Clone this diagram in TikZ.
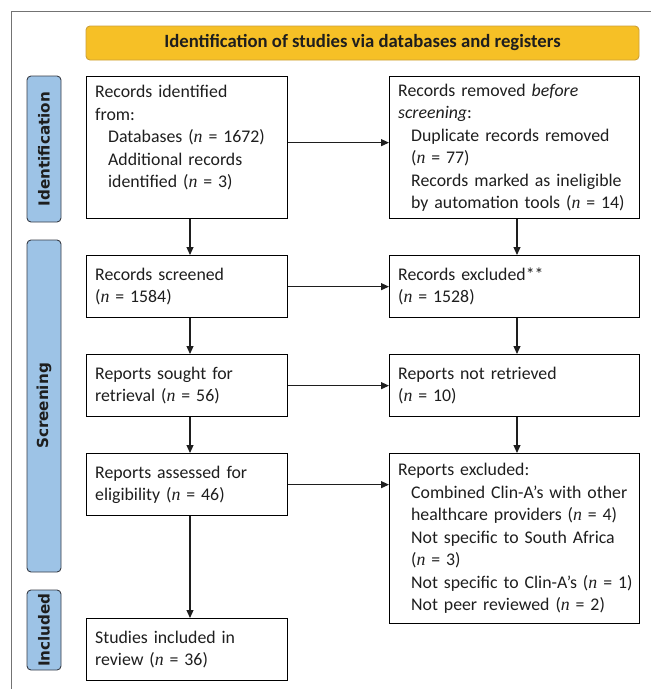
\documentclass[tikz,border=0pt]{standalone}
\usepackage{fontspec}
\setmainfont{Carlito}
\newfontfamily\sidefont{DejaVu Sans}
\newfontfamily\nfont{Liberation Serif}
\usetikzlibrary{arrows.meta}
\definecolor{bannerfill}{RGB}{246,192,38}
\definecolor{bannerline}{RGB}{205,160,55}
\definecolor{sidefill}{RGB}{157,195,230}
\definecolor{sideline}{RGB}{55,60,70}
\definecolor{framegray}{RGB}{115,115,115}
\definecolor{ink}{RGB}{30,30,30}
\newcommand{\nn}{{\nfont\itshape n}}
\newcommand{\ind}{\hspace*{13pt}}
\begin{document}
\begin{tikzpicture}[x=1pt,y=-1pt,
  box/.style={draw=black, line width=1.3pt, fill=white, anchor=north west,
    inner xsep=8.5pt, inner ysep=0pt, align=left, text=ink,
    font=\fontsize{17.8}{22.5}\selectfont},
  lbox/.style={box, minimum width=201pt, text width=184pt},
  rbox/.style={box, minimum width=250pt, text width=233pt},
  sidebar/.style={draw=sideline, line width=0.9pt, fill=sidefill, rounded corners=4pt,
    rotate=90, minimum height=34pt, inner sep=0pt, text=ink,
    font=\fontsize{15.2}{18}\sidefont\bfseries},
  bannerbox/.style={draw=bannerline, line width=0.9pt, fill=bannerfill, rounded corners=4pt,
    minimum width=553pt, minimum height=34pt, inner sep=0pt, text=ink,
    font=\fontsize{18.7}{22}\selectfont\bfseries},
  arr/.style={draw=ink, line width=1.1pt, -{Triangle[length=8pt,width=7pt]}}
]
\useasboundingbox (0,0) rectangle (651,689);
\draw[framegray, line width=1pt] (11,689) -- (11,11) -- (651,11);

\node[bannerbox] (T) at (362.5,43) {Identification of studies via databases and registers};

\node[sidebar, minimum width=146pt] (S1) at (44,149) {Identification};
\node[sidebar, minimum width=332pt] (S2) at (44,406) {Screening};
\node[sidebar, minimum width=80pt] (S3) at (44,630) {Included};

\node[lbox, minimum height=142pt] (A) at (86,76) {Records identified\\from:\\\ind Databases (\nn{} = 1672)\\\ind Additional records\\\ind identified (\nn{} = 3)\\\mbox{}};
\node[rbox, minimum height=142pt] (B) at (389,76) {Records removed \textit{before}\\\textit{screening}:\\\ind Duplicate records removed\\\ind (\nn{} = 77)\\\ind \mbox{Records marked as ineligible}\\\ind \mbox{by automation tools (\nn{} = 14)}};

\node[lbox, minimum height=62pt] (C) at (86,255) {Records screened\\(\nn{} = 1584)};
\node[rbox, minimum height=62pt] (D) at (389,255) {Records excluded**\\(\nn{} = 1528)};

\node[lbox, minimum height=62pt] (E) at (86,354) {Reports sought for\\retrieval (\nn{} = 56)};
\node[rbox, minimum height=62pt] (F) at (389,354) {Reports not retrieved\\(\nn{} = 10)};

\node[lbox, minimum height=62pt] (G) at (86,453) {Reports assessed for\\eligibility (\nn{} = 46)};
\node[rbox, minimum height=170pt] (H) at (389,453) {Reports excluded:\\\ind \mbox{Combined Clin-A’s with other}\\\ind \mbox{healthcare providers (\nn{} = 4)}\\\ind \mbox{Not specific to South Africa}\\\ind (\nn{} = 3)\\\ind \mbox{Not specific to Clin-A’s (\nn{} = 1)}\\\ind \mbox{Not peer reviewed (\nn{} = 2)}};

\node[lbox, minimum height=62pt] (I) at (86,618) {Studies included in\\review (\nn{} = 36)};

\coordinate (lc) at (190,0);
\coordinate (rc) at (517,0);

\draw[arr] ([yshift=5pt]A.east) -- ([yshift=5pt]A.east -| B.west);
\draw[arr] (C.east) -- (C.east -| D.west);
\draw[arr] (E.east) -- (E.east -| F.west);
\draw[arr] (G.east) -- (G.east -| H.west);

\draw[arr] (A.south -| lc) -- (C.north -| lc);
\draw[arr] (C.south -| lc) -- (E.north -| lc);
\draw[arr] (E.south -| lc) -- (G.north -| lc);
\draw[arr] (G.south -| lc) -- (I.north -| lc);

\draw[arr] (B.south -| rc) -- (D.north -| rc);
\draw[arr] (D.south -| rc) -- (F.north -| rc);
\draw[arr] (F.south -| rc) -- (H.north -| rc);
\end{tikzpicture}
\end{document}
